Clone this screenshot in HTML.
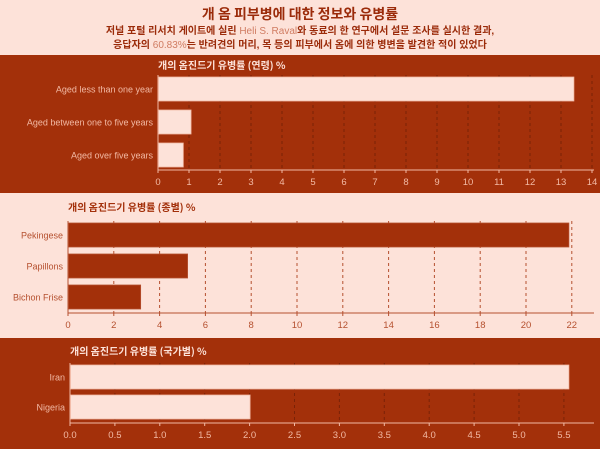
<!DOCTYPE html>
<html><head><meta charset="utf-8">
<style>
body{margin:0;width:600px;height:449px;overflow:hidden;background:#fde2d9;font-family:"Liberation Sans","Noto Sans CJK KR",sans-serif}
svg{display:block}
</style></head><body>
<svg id="c" width="600" height="449">
<rect x="0" y="0" width="600" height="449" fill="#fde2d9"/>
<text x="300" y="19" text-anchor="middle" font-size="14" font-weight="bold" fill="#9b2b0a" font-family="'Noto Sans CJK KR',sans-serif">개 옴 피부병에 대한 정보와 유병률</text>
<text x="300" y="34" text-anchor="middle" font-size="10" font-weight="bold" fill="#9b2b0a" font-family="'Liberation Sans','Noto Sans CJK KR',sans-serif">저널 포털 리서치 게이트에 실린 <tspan font-weight="normal" fill="#d07c62">Heli S. Raval</tspan>와 동료의 한 연구에서 설문 조사를 실시한 결과,</text>
<text x="300" y="48" text-anchor="middle" font-size="10" font-weight="bold" fill="#9b2b0a" font-family="'Liberation Sans','Noto Sans CJK KR',sans-serif">응답자의 <tspan font-weight="normal" fill="#d07c62">60.83%</tspan>는 반려견의 머리, 목 등의 피부에서 옴에 의한 병변을 발견한 적이 있었다</text>
</svg>
<script>
const ageCats=["Aged less than one year","Aged between one to five years","Aged over five years"];
const ageVals=[13.4,1.05,0.8];
const ageTicks=[0,1,2,3,4,5,6,7,8,9,10,11,12,13,14];
const breedCats=["Pekingese","Papillons","Bichon Frise"];
const breedVals=[21.85,5.2,3.15];
const breedTicks=[0,2,4,6,8,10,12,14,16,18,20,22];
const countryCats=["Iran","Nigeria"];
const countryVals=[5.55,2.0];
const countryTicks=["0.0","0.5","1.0","1.5","2.0","2.5","3.0","3.5","4.0","4.5","5.0","5.5"];

const NS="http://www.w3.org/2000/svg";
const svg=document.getElementById('c');
const DARK="#a3300a",LIGHT="#fde2d9";
function mk(t,a,p){const e=document.createElementNS(NS,t);for(const k in a)e.setAttribute(k,a[k]);(p||svg).appendChild(e);return e;}

function panel(o){
  const bg=mk('rect',{x:0,y:o.top,width:600,height:o.h,fill:o.dark?DARK:LIGHT});
  
  
  const fg=o.dark?LIGHT:DARK;
  const lab=o.dark?"#f2b9a4":"#b5502f";
  const grid=o.dark?"#7a2207":"#b5502f";
  const xs=v=>o.x0+(v-o.t0)*o.unit;
  const t=mk('text',{x:o.x0,y:o.top+o.ty,'font-size':10,'font-weight':'bold',fill:fg,'font-family':"'Noto Sans CJK KR',sans-serif"});
  t.textContent=o.title;
  
  
  o.ticks.forEach((tk,i)=>{
    const v=parseFloat(tk);const x=xs(v);
    if(i>0){const g=mk('line',{x1:x,x2:x,y1:o.barTop-2,y2:o.axisY,stroke:grid,'stroke-width':1,'stroke-dasharray':'3,3'});
    
    }
    const tm=mk('line',{x1:x,x2:x,y1:o.axisY,y2:o.axisY+3,stroke:lab,'stroke-width':1});
    
    
    const tl=mk('text',{x:x,y:o.axisY+15,'text-anchor':'middle','font-size':9.5,fill:lab});
    tl.textContent=tk;
    
    
  });
  const ax=mk('line',{x1:o.x0,x2:594,y1:o.axisY,y2:o.axisY,stroke:lab,'stroke-width':1});
  
  
  const ay=mk('line',{x1:o.x0,x2:o.x0,y1:o.barTop-2,y2:o.axisY,stroke:lab,'stroke-width':1});
  
  
  o.cats.forEach((c,i)=>{
    const y=o.barTop+i*o.step;
    const b=mk('rect',{x:o.x0+0.5,y:y,width:xs(o.vals[i])-o.x0,height:o.bh,fill:fg,stroke:lab,'stroke-width':0.8});
    
    
    const l=mk('text',{x:o.x0-5,y:y+o.bh/2+3.5,'text-anchor':'end','font-size':9,fill:lab});
    l.textContent=c;
    
    
  });
}
panel({name:'age',dark:true,top:55,h:138,ty:14,x0:158,t0:0,unit:31,ticks:ageTicks.map(String),cats:ageCats,vals:ageVals,barTop:77,step:33,bh:24,axisY:170,title:'개의 옴진드기 유병률 (연령) %'});
panel({name:'breed',dark:false,top:193,h:145,ty:18,x0:68,t0:0,unit:22.9,ticks:breedTicks.map(String),cats:breedCats,vals:breedVals,barTop:223,step:31,bh:24,axisY:313,title:'개의 옴진드기 유병률 (종별) %'});
panel({name:'country',dark:true,top:338,h:111,ty:17,x0:70,t0:0,unit:89.8,ticks:countryTicks,cats:countryCats,vals:countryVals,barTop:365,step:30,bh:24,axisY:423,title:'개의 옴진드기 유병률 (국가별) %'});
</script>
</body></html>
